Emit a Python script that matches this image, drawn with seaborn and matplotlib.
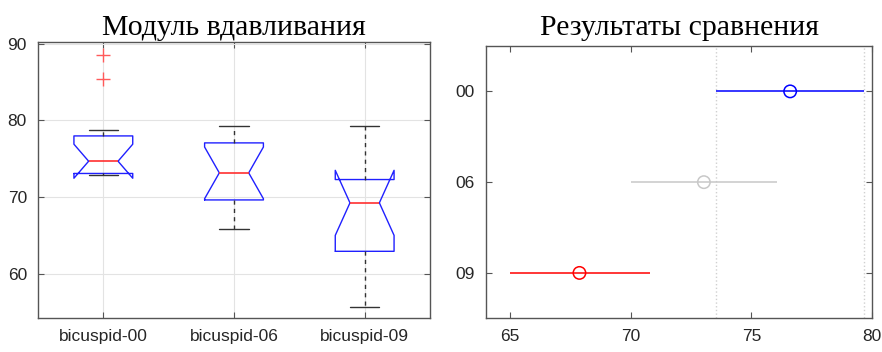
import numpy as np
import pandas as pd
import matplotlib
matplotlib.use("Agg")
import matplotlib.pyplot as plt
import seaborn as sns

# raw samples (12 per group) chosen to reproduce the quartiles
groups = ["bicuspid-00", "bicuspid-06", "bicuspid-09"]
vals_00 = [72.8, 72.9, 73.0, 73.07, 73.8, 74.3, 75.0, 76.5, 77.7, 78.7, 85.4, 88.5]
vals_06 = [65.8, 67.5, 69.3, 69.7, 71.0, 72.6, 73.66, 75.0, 76.9, 77.46, 78.4, 79.3]
vals_09 = [55.7, 59.0, 62.6, 63.0, 66.0, 68.9, 69.54, 70.8, 72.0, 73.04, 75.5, 79.2]

# multiple comparison results (means and intervals)
cmp_labels = ["00", "06", "09"]
cmp_means = [76.6, 73.03, 67.88]
cmp_low = [73.55, 70.0, 65.0]
cmp_high = [79.65, 76.07, 70.8]
cmp_colors = ["#0000ff", "#c8c8c8", "#ff0000"]

sns.set_style("white")
plt.rcParams["font.family"] = ["Liberation Sans", "DejaVu Sans"]

TXT = "#262626"
FRAME = "#555555"
SERIF = ["Liberation Serif", "DejaVu Serif"]
OUTLIER = "#ff5a5a"

df = pd.DataFrame({
    "group": np.repeat(groups, 12),
    "value": vals_00 + vals_06 + vals_09,
})

fig = plt.figure(figsize=(8.82, 3.52), dpi=100)
ax1 = fig.add_axes([38 / 882, 34 / 352, 392 / 882, 276 / 352])
ax2 = fig.add_axes([485.7 / 882, 33.7 / 352, 386.6 / 882, 272.3 / 352])

sns.boxplot(data=df, x="group", y="value", order=groups, ax=ax1,
            fill=False, width=0.45, whis=1.5, shownotches=True,
            capwidths=0.225, linewidth=1.0,
            boxprops=dict(color="#2020ff", linewidth=1.0),
            medianprops=dict(color="#ff3030", linewidth=1.2),
            whiskerprops=dict(color="#333333", linestyle=(0, (3, 3)), linewidth=1.0),
            capprops=dict(color="#333333", linewidth=1.0),
            flierprops=dict(marker="+", markeredgecolor=OUTLIER,
                            markersize=10, markeredgewidth=1.0))

ax1.set_ylim(54.2, 90.2)
ax1.set_xlim(-0.5, 2.5)
ax1.set_yticks([60, 70, 80, 90])
ax1.set_xlabel("")
ax1.set_ylabel("")
ax1.grid(True, color="#e3e3e3", linewidth=0.8)
ax1.set_axisbelow(True)
ax1.set_title("Модуль вдавливания", family=SERIF, fontsize=21.5, pad=5,
              color="black")

# comparison panel
ypos = [3, 2, 1]
for i in range(len(cmp_labels)):
    ax2.hlines(ypos[i], cmp_low[i], cmp_high[i], color=cmp_colors[i], linewidth=1.1)
cmp_df = pd.DataFrame({"mean": cmp_means, "pos": ypos, "lab": cmp_labels})
sns.scatterplot(data=cmp_df, x="mean", y="pos", hue="lab", palette=cmp_colors,
                marker="o", s=80, linewidth=1.1, legend=False, ax=ax2, zorder=3)
for c in ax2.collections:
    if len(c.get_offsets()) == 3:
        c.set_facecolor("none")
        c.set_edgecolor(cmp_colors)
ax2.axvline(cmp_low[0], color="#d0d0d0", linestyle=":", linewidth=1.0, zorder=1)
ax2.axvline(cmp_high[0], color="#d0d0d0", linestyle=":", linewidth=1.0, zorder=1)

ax2.set_xlim(64, 80)
ax2.set_ylim(0.5, 3.5)
ax2.set_xticks([65, 70, 75, 80])
ax2.set_yticks(ypos)
ax2.set_yticklabels(cmp_labels)
ax2.set_xlabel("")
ax2.set_ylabel("")
ax2.set_title("Результаты сравнения", family=SERIF, fontsize=21.5, pad=8,
              color="black")

for ax in (ax1, ax2):
    for sp in ax.spines.values():
        sp.set_visible(True)
        sp.set_color(FRAME)
        sp.set_linewidth(1.0)
    ax.tick_params(direction="in", length=4, width=0.8, color=FRAME,
                   top=True, right=True, bottom=True, left=True,
                   labelsize=12.5, labelcolor=TXT, pad=8)

fig.savefig("out.png", dpi=100)
